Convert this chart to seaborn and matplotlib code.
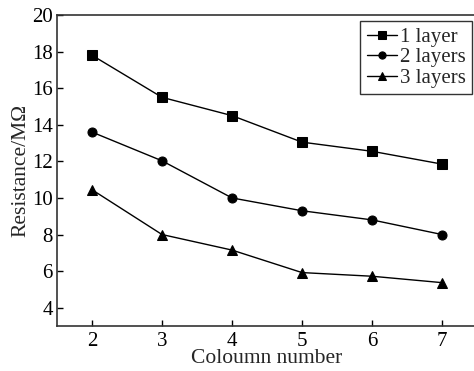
import numpy as np
import pandas as pd
import matplotlib
matplotlib.use("Agg")
import matplotlib.pyplot as plt
import seaborn as sns

columns = [2, 3, 4, 5, 6, 7]
layer1 = [17.8, 15.5, 14.5, 13.05, 12.55, 11.85]
layer2 = [13.6, 12.03, 10.0, 9.3, 8.8, 8.0]
layer3 = [10.45, 8.0, 7.15, 5.92, 5.72, 5.37]
series_names = ["1 layer", "2 layers", "3 layers"]
yticks = [4, 6, 8, 10, 12, 14, 16, 18, 20]

sns.set_theme(style="ticks")
plt.rcParams['font.family'] = ['Liberation Serif', 'DejaVu Serif']
plt.rcParams['mathtext.fontset'] = 'stix'

df = pd.DataFrame({
    "Coloumn number": columns * 3,
    "Resistance": layer1 + layer2 + layer3,
    "series": sum([[n] * len(columns) for n in series_names], []),
})

fig = plt.figure(figsize=(4.74, 3.71), dpi=100)
ax = fig.add_axes([57/474, (371-326)/371, (477-57)/474, (326-15)/371])

sns.lineplot(data=df, x="Coloumn number", y="Resistance", hue="series", style="series",
             markers=["s", "o", "^"], dashes=False, palette=["black"]*3,
             markersize=6.5, linewidth=1.0, markeredgecolor="black", ax=ax)

ax.set_xlim(1.5, 7.5)
ax.set_ylim(3, 20)
ax.set_xticks(columns)
ax.set_yticks(yticks)
ax.tick_params(direction="in", length=4, width=1, labelsize=15, colors="black",
               top=False, right=False)
ax.tick_params(axis="x", pad=4)
ax.tick_params(axis="y", pad=3)
for s in ax.spines.values():
    s.set_linewidth(1.2)
    s.set_color("#333333")
ax.set_xlabel("Coloumn number", fontsize=15.5, labelpad=-1)
ax.set_ylabel("Resistance/M\u03a9", fontsize=15.5, labelpad=1)

leg = ax.legend(loc="upper right", bbox_to_anchor=((472-57)/(477-57), 1 - 6/311),
                fontsize=15, frameon=True, fancybox=False, edgecolor="black",
                handlelength=1.45, handletextpad=0.15, borderpad=0.3, labelspacing=0.05,
                borderaxespad=0, markerscale=0.8)
leg.get_frame().set_linewidth(1.0)

fig.savefig("out.png", dpi=100)
